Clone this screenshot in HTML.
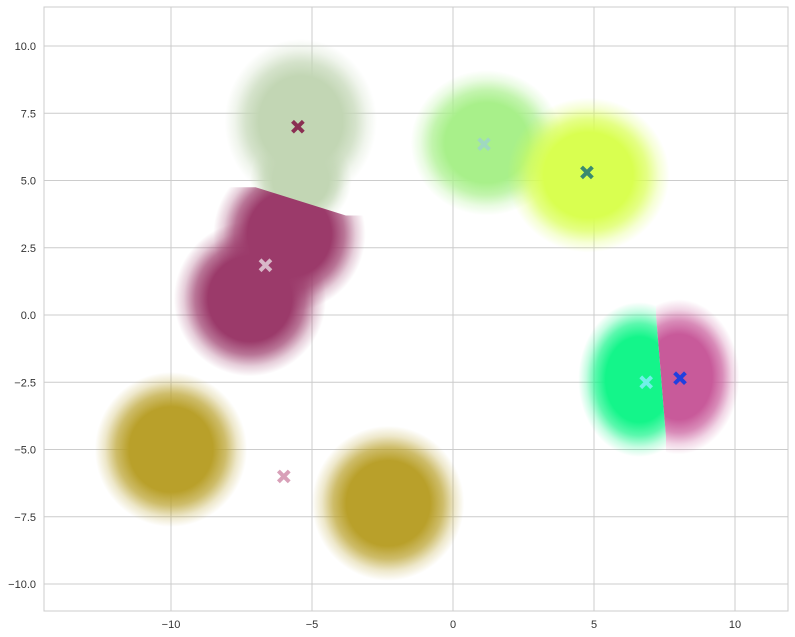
<!DOCTYPE html>
<html><head><meta charset="utf-8"><style>
html,body{margin:0;padding:0;background:#fff;}
svg{display:block;font-family:"Liberation Sans",sans-serif;}
</style></head><body>
<svg id="chart" width="795" height="637"></svg>
<script>
// cluster blobs: center x, center y, spread x, spread y, colour, clip group
const clusterX = [-5.4, -5.4, 1.2, 4.8, -7.2, -5.8, 6.6, 8.0, -10.0, -2.3];
const clusterY = [7.2, 5.0, 6.4, 5.2, 0.6, 3.0, -2.4, -2.3, -5.0, -7.0];
const clusterSX = [0.75, 0.5, 0.75, 0.8, 0.75, 0.75, 0.6, 0.6, 0.75, 0.75];
const clusterSY = [0.85, 0.5, 0.75, 0.8, 0.8, 0.8, 0.8, 0.8, 0.8, 0.8];
const clusterColor = ["#c2d6b4","#c2d6b4","#a8f08a","#d9ff50","#9b3a6a","#9b3a6a","#14f58a","#c85a9a","#b9a02a","#b9a02a"];
const clusterClip = ["", "", "", "", "maroon", "maroon", "green", "pink", "", ""];
// centroid markers
const centX = [-5.5, 1.1, 4.75, -6.65, -6.0, 6.85, 8.05];
const centY = [7.0, 6.35, 5.3, 1.85, -6.0, -2.5, -2.35];
const centColor = ["#8a2f52","#9fd8c0","#3a8a70","#d8b8c8","#d8a0b8","#70f0e8","#2040e0"];
const xTicks = [-10, -5, 0, 5, 10];
const yTicks = [-10, -7.5, -5, -2.5, 0, 2.5, 5, 7.5, 10];
const xTickLabels = ["\u221210","\u22125","0","5","10"];
const yTickLabels = ["\u221210.0","\u22127.5","\u22125.0","\u22122.5","0.0","2.5","5.0","7.5","10.0"];

const L=44,R=788,T=7,B=611;
const X = v => 453 + v*28.2;
const Y = v => 315 - v*26.9;
const NS="http://www.w3.org/2000/svg";
const svg=document.getElementById('chart');
function mk(t,a,p){const e=document.createElementNS(NS,t);for(const k in a)e.setAttribute(k,a[k]);(p||svg).appendChild(e);return e;}

const defs=mk('defs',{});
const cm=mk('clipPath',{id:'maroon'},defs);
mk('polygon',{points:`0,${Y(4.75)} ${X(-7)},${Y(4.75)} ${X(-3.8)},${Y(3.7)} ${X(0)},${Y(3.7)} ${X(0)},${B} 0,${B}`},cm);
const cg=mk('clipPath',{id:'green'},defs);
mk('polygon',{points:`0,0 ${X(7.2)},0 ${X(7.2)},${Y(0)} ${X(7.55)},${Y(-4.5)} ${X(7.55)},${B} 0,${B}`},cg);
const cp=mk('clipPath',{id:'pink'},defs);
mk('polygon',{points:`${X(7.2)},0 ${R},0 ${R},${B} ${X(7.55)},${B} ${X(7.55)},${Y(-4.5)} ${X(7.2)},${Y(0)}`},cp);

mk('rect',{x:L,y:T,width:R-L,height:B-T,fill:'#fff',stroke:'#cccccc','stroke-width':1});
xTicks.forEach((t,i)=>{
  const g=mk('line',{x1:X(t),x2:X(t),y1:T,y2:B,stroke:'#cccccc','stroke-width':1});
  
  const tx=mk('text',{x:X(t),y:B+17,'text-anchor':'middle','font-size':11,fill:'#333'});
  tx.textContent=xTickLabels[i];
  
});
yTicks.forEach((t,i)=>{
  const g=mk('line',{x1:L,x2:R,y1:Y(t),y2:Y(t),stroke:'#cccccc','stroke-width':1});
  
  const tx=mk('text',{x:L-8,y:Y(t)+4,'text-anchor':'end','font-size':11,fill:'#333'});
  tx.textContent=yTickLabels[i];
  
});

clusterX.forEach((cx,i)=>{
  const gid='grad'+i;
  const gr=mk('radialGradient',{id:gid},defs);
  [[0,1],[0.55,1],[0.72,0.7],[0.87,0.25],[1,0]].forEach(s=>mk('stop',{offset:s[0],'stop-color':clusterColor[i],'stop-opacity':s[1]},gr));
  const a={cx:X(cx),cy:Y(clusterY[i]),rx:clusterSX[i]*3.6*28.2,ry:clusterSY[i]*3.6*26.9,fill:`url(#${gid})`};
  if(clusterClip[i]) a['clip-path']=`url(#${clusterClip[i]})`;
  const e=mk('ellipse',a);
  
  
});

centX.forEach((cx,i)=>{
  const x=X(cx),y=Y(centY[i]),d=4;
  const p=mk('path',{d:`M${x-d},${y-d}L${x+d},${y+d}M${x+d},${y-d}L${x-d},${y+d}`,stroke:centColor[i],'stroke-width':4,'stroke-linecap':'square'});
  
  
});
</script>
</body></html>
